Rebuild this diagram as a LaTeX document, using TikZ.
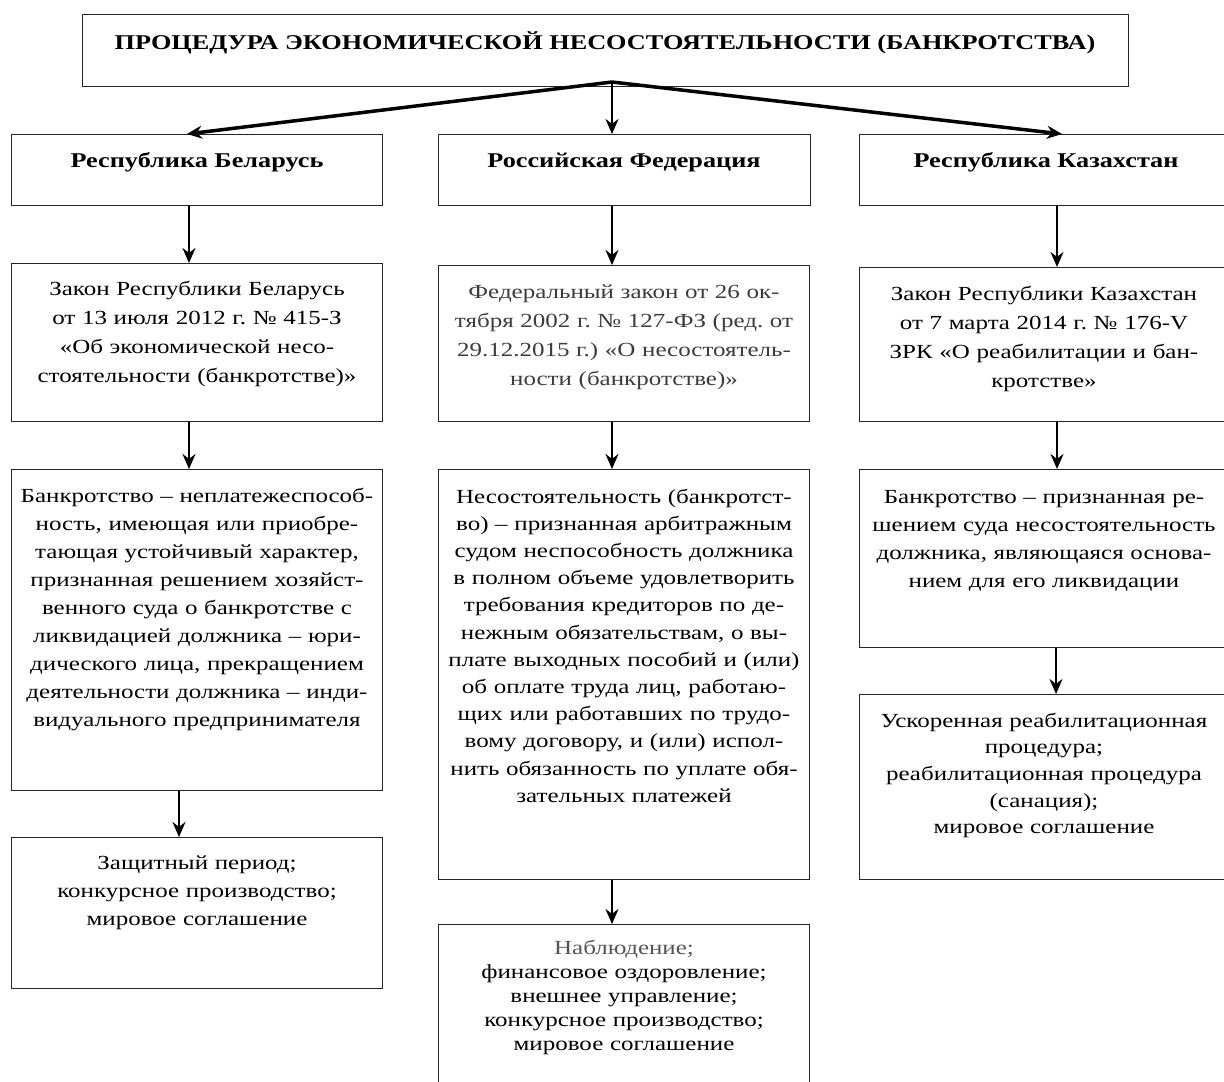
\documentclass[tikz,border=0pt]{standalone}
\usepackage{fontspec}
\setmainfont[FakeStretch=1.25]{Liberation Serif}
\usetikzlibrary{arrows.meta}
\definecolor{lawgray}{HTML}{3C3C3C}
\definecolor{obsgray}{HTML}{555555}
\tikzset{
  box/.style={draw=black!85, line width=1.3pt, fill=white, inner sep=0pt, anchor=north west},
  txt/.style={inner sep=0pt, align=center, anchor=base, text width=400pt, font=\fontsize{20pt}{28pt}\selectfont},
  head/.style={inner sep=0pt, anchor=base, font=\bfseries\fontsize{21pt}{24pt}\selectfont},
  arr/.style={line width=2.2pt, -{Stealth[length=15pt,width=13pt]}},
  thickarr/.style={line width=3.5pt, -{Stealth[length=15pt,width=13pt]}}
}
\frenchspacing
\begin{document}
\begin{tikzpicture}[x=1pt,y=-1pt]
\useasboundingbox (0,0) rectangle (1224,1082);
% title
\node[box, minimum width=1046pt, minimum height=72pt] (top) at (82,14) {};
\node[head] (topt) at (605,49) {ПРОЦЕДУРА ЭКОНОМИЧЕСКОЙ НЕСОСТОЯТЕЛЬНОСТИ (БАНКРОТСТВА)};
% countries
\node[box, minimum width=371pt, minimum height=71pt] (bel2) at (11,134) {};
\node[box, minimum width=372pt, minimum height=71pt] (rus2) at (438,134) {};
\node[box, minimum width=370pt, minimum height=71pt] (kaz2) at (859,134) {};
\node[head] (bel2t) at (197,167) {Республика Беларусь};
\node[head] (rus2t) at (624,167) {Российская Федерация};
\node[head] (kaz2t) at (1046,167) {Республика Казахстан};
% laws
\node[box, minimum width=371pt, minimum height=158pt] (bel3) at (11,263) {};
\node[box, minimum width=371pt, minimum height=156pt] (rus3) at (438,265) {};
\node[box, minimum width=370pt, minimum height=154pt] (kaz3) at (859,267) {};
\node[txt, font=\fontsize{20pt}{29pt}\selectfont] (bel3t) at (197,295) {Закон Республики Беларусь\\от 13 июля 2012 г. №~415-З\\«Об экономической несо-\\стоятельности (банкротстве)»};
\node[txt, text=lawgray, font=\fontsize{20pt}{29pt}\selectfont] (rus3t) at (624,298) {Федеральный закон от 26 ок-\\тября 2002 г. №~127-ФЗ (ред. от\\29.12.2015 г.) «О несостоятель-\\ности (банкротстве)»};
\node[txt, font=\fontsize{20pt}{29pt}\selectfont] (kaz3t) at (1044,300) {Закон Республики Казахстан\\от 7 марта 2014 г. №~176-V\\ЗРК «О реабилитации и бан-\\кротстве»};
% definitions
\node[box, minimum width=371pt, minimum height=321pt] (bel4) at (11,469) {};
\node[box, minimum width=371pt, minimum height=410pt] (rus4) at (438,469) {};
\node[box, minimum width=370pt, minimum height=178pt] (kaz4) at (859,469) {};
\node[txt] (bel4t) at (197,502) {Банкротство – неплатежеспособ-\\ность, имеющая или приобре-\\тающая устойчивый характер,\\признанная решением хозяйст-\\венного суда о банкротстве с\\ликвидацией должника – юри-\\дического лица, прекращением\\деятельности должника – инди-\\видуального предпринимателя};
\node[txt, font=\fontsize{20pt}{27.2pt}\selectfont] (rus4t) at (624,503) {Несостоятельность (банкротст-\\во) – признанная арбитражным\\судом неспособность должника\\в полном объеме удовлетворить\\требования кредиторов по де-\\нежным обязательствам, о вы-\\плате выходных пособий и (или)\\об оплате труда лиц, работаю-\\щих или работавших по трудо-\\вому договору, и (или) испол-\\нить обязанность по уплате обя-\\зательных платежей};
\node[txt] (kaz4t) at (1044,503) {Банкротство – признанная ре-\\шением суда несостоятельность\\должника, являющаяся основа-\\нием для его ликвидации};
% procedures
\node[box, minimum width=371pt, minimum height=151pt] (bel5) at (11,837) {};
\node[box, minimum width=371pt, minimum height=160pt] (rus5) at (438,924) {};
\node[box, minimum width=370pt, minimum height=185pt] (kaz5) at (859,694) {};
\node[txt] (bel5t) at (197,869) {Защитный период;\\конкурсное производство;\\мировое соглашение};
\node[txt, font=\fontsize{20pt}{24pt}\selectfont] (rus5t) at (624,954) {\textcolor{obsgray}{Наблюдение;}\\финансовое оздоровление;\\внешнее управление;\\конкурсное производство;\\мировое соглашение};
\node[txt, font=\fontsize{20pt}{26.7pt}\selectfont] (kaz5t) at (1044,727) {Ускоренная реабилитационная\\процедура;\\реабилитационная процедура\\(санация);\\мировое соглашение};
% connectors
\coordinate (o) at (612,82);
\draw[thickarr] (o) -- (bel2.north -| 187,0);
\draw[thickarr] (o) -- (kaz2.north -| 1062,0);
\draw[arr] (o) -- (rus2.north -| 612,0);
\draw[arr] (bel2.south -| 189,0) -- (bel3.north -| 189,0);
\draw[arr] (bel3.south -| 189,0) -- (bel4.north -| 189,0);
\draw[arr] (bel4.south -| 179,0) -- (bel5.north -| 179,0);
\draw[arr] (rus2.south -| 612,0) -- (rus3.north -| 612,0);
\draw[arr] (rus3.south -| 612,0) -- (rus4.north -| 612,0);
\draw[arr] (rus4.south -| 612,0) -- (rus5.north -| 612,0);
\draw[arr] (kaz2.south -| 1057,0) -- (kaz3.north -| 1057,0);
\draw[arr] (kaz3.south -| 1057,0) -- (kaz4.north -| 1057,0);
\draw[arr] (kaz4.south -| 1056,0) -- (kaz5.north -| 1056,0);
\end{tikzpicture}
\end{document}
